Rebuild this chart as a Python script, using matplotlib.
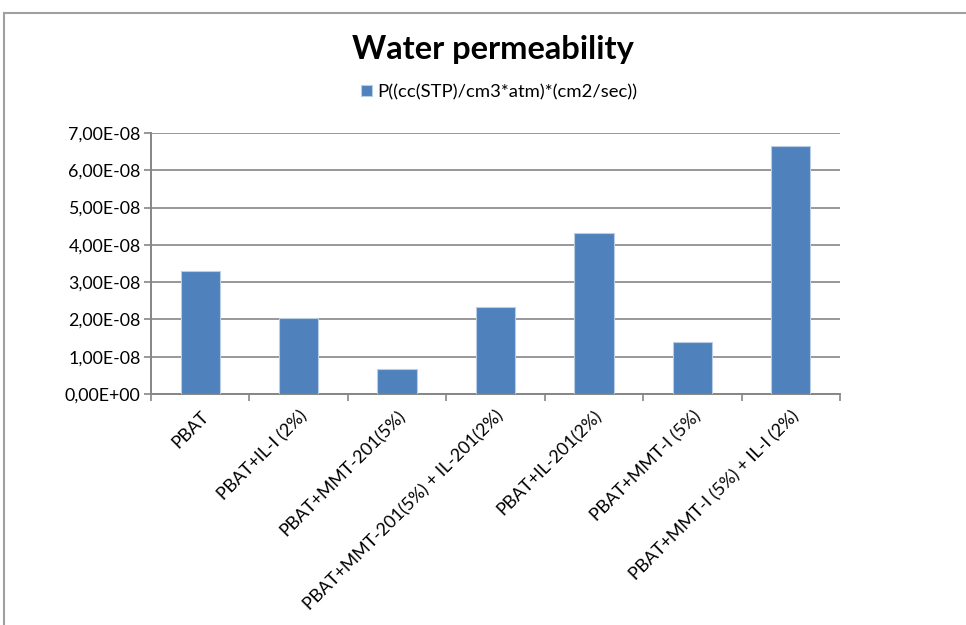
"""
    plot.py

    Water permeability of PBAT films, bar chart.
"""

import matplotlib
matplotlib.use("Agg")
import matplotlib.pyplot as plt
from matplotlib.lines import Line2D
from matplotlib.ticker import FuncFormatter, FixedLocator

# samples and measured permeability
SAMPLES = ["PBAT",
           "PBAT+IL-I (2%)",
           "PBAT+MMT-201(5%)",
           "PBAT+MMT-201(5%) + IL-201(2%)",
           "PBAT+IL-201(2%)",
           "PBAT+MMT-I (5%)",
           "PBAT+MMT-I (5%) + IL-I (2%)"]
PERMEABILITY = [3.30e-8, 2.05e-8, 0.67e-8, 2.33e-8, 4.32e-8, 1.39e-8, 6.65e-8]
SERIES_NAME = "P((cc(STP)/cm3*atm)*(cm2/sec))"
Y_TICKS = [0, 1e-8, 2e-8, 3e-8, 4e-8, 5e-8, 6e-8, 7e-8]

BAR_COLOR = "#4F81BD"
GRID_COLOR = "#868686"

plt.rcParams["font.family"] = ["Lato", "DejaVu Sans"]

fig = plt.figure(figsize=(9.66, 6.25), dpi=100)
ax = fig.add_axes([151 / 966, 1 - 394 / 625, 689 / 966, 261 / 625])

x = list(range(len(SAMPLES)))
ax.bar(x, PERMEABILITY, width=0.4, color=BAR_COLOR,
       edgecolor="#B9CDE5", linewidth=0.8, zorder=3, label=SERIES_NAME)

ax.set_xlim(-0.5, len(SAMPLES) - 0.5)
ax.set_ylim(0, 7e-8)
ax.set_yticks(Y_TICKS)
ax.yaxis.set_major_formatter(
    FuncFormatter(lambda v, _: f"{v:.2E}".replace(".", ",")))
ax.grid(axis="y", color=GRID_COLOR, linewidth=1.2, zorder=0)

ax.set_xticks(x)
ax.set_xticklabels(SAMPLES, rotation=45, ha="right",
                   rotation_mode="anchor", fontsize=12.8)
ax.xaxis.set_minor_locator(
    FixedLocator([i - 0.5 for i in range(len(SAMPLES) + 1)]))
ax.tick_params(axis="x", which="major", length=0, pad=10)
ax.tick_params(axis="x", which="minor", length=5, width=1.2,
               color=GRID_COLOR, direction="out")
ax.tick_params(axis="y", length=5, width=1.2, color=GRID_COLOR,
               labelsize=12.8, pad=2.5)

for side in ("top", "right"):
    ax.spines[side].set_visible(False)
for side in ("left", "bottom"):
    ax.spines[side].set_color(GRID_COLOR)
    ax.spines[side].set_linewidth(1.4)

fig.text(493 / 966, 1 - 50 / 625, "Water permeability",
         ha="center", va="center", fontsize=23.5, fontweight="bold")
fig.legend(loc="center", bbox_to_anchor=(499 / 966, 1 - 92 / 625),
           frameon=False, fontsize=13.3, handlelength=0.6,
           handleheight=0.6, handletextpad=0.3)

# outer chart frame
frame_kw = dict(color="#A0A0A0", linewidth=1.5, transform=fig.transFigure)
fig.add_artist(Line2D([4 / 966, 1], [1 - 13 / 625] * 2, **frame_kw))
fig.add_artist(Line2D([4 / 966] * 2, [0, 1 - 13 / 625], **frame_kw))

fig.savefig("out.png", dpi=100)
